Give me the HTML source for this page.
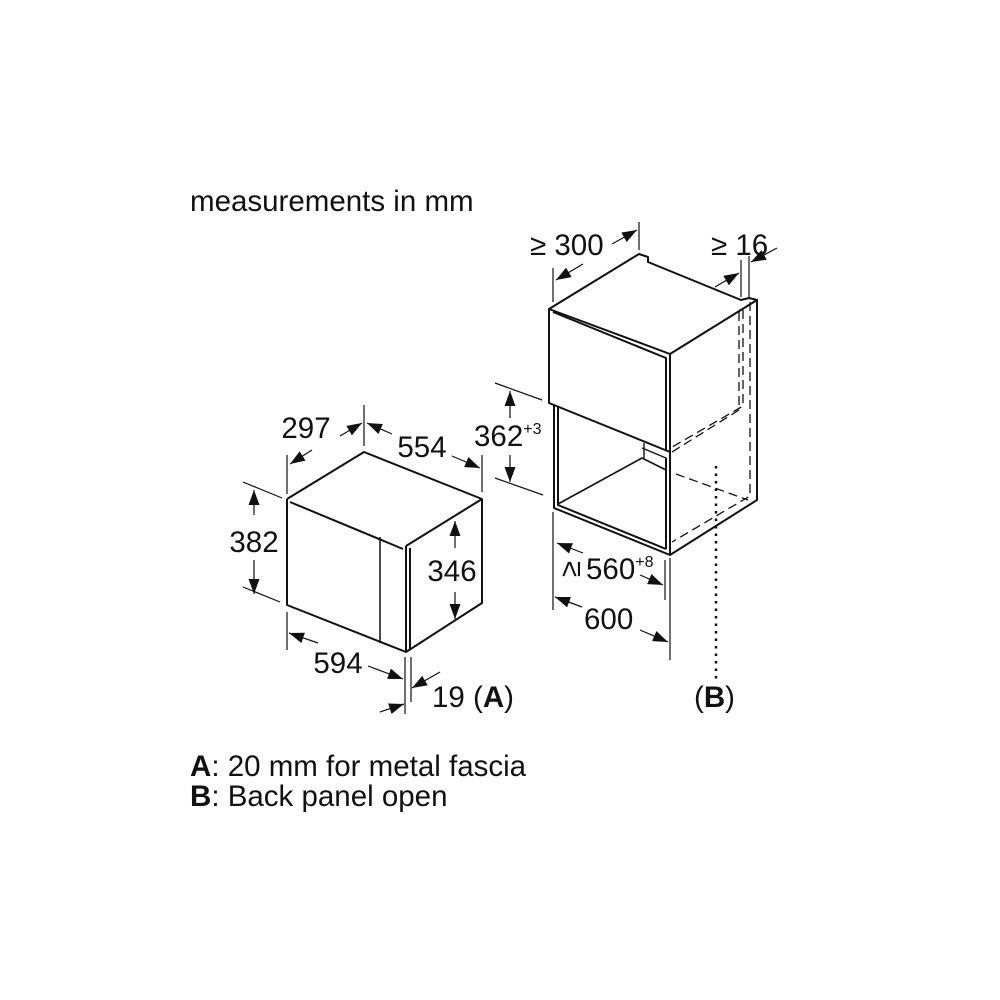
<!DOCTYPE html>
<html><head><meta charset="utf-8">
<style>html,body{margin:0;padding:0;background:#fff}svg{display:block}
text{font-family:"Liberation Sans",Arial,sans-serif;fill:#111}</style></head>
<body>
<svg width="1000" height="1000" viewBox="0 0 1000 1000" xmlns="http://www.w3.org/2000/svg">
<defs>
<marker id="a" viewBox="0 0 15 11" refX="15" refY="5.5" markerWidth="15" markerHeight="11" markerUnits="userSpaceOnUse" orient="auto">
<path d="M0,0 L15,5.5 L0,11 z" fill="#111"/></marker>
</defs>
<rect width="1000" height="1000" fill="#fff"/>
<text x="190" y="211" font-size="29.5">measurements in mm</text>

<!-- Microwave -->
<g stroke="#111" stroke-width="2" fill="none" stroke-linejoin="round">
<path d="M287,499 L364,452 L482,499 L406,546"/>
<path d="M290,502 L403,549"/>
<path d="M287,499 L287,605 L406,652 L482,603 L482,499"/>
<path d="M406,546 L406,652 M410,548 L410,650"/>
<path d="M380,537 L380,643" stroke-width="1.5"/>
</g>
<g stroke="#111" stroke-width="1.2" fill="none">
<path d="M287,455 L287,494 M364,405 L364,446 M482,455 L482,492"/>
<path d="M243,482 L282,498 M243,587 L280,602"/>
<path d="M287,612 L287,650 M405,657 L405,714 M411,657 L411,702"/>
<path d="M312,450 L290,464" marker-end="url(#a)"/>
<path d="M340,436 L362,423" marker-end="url(#a)"/>
<path d="M392,434 L367,423" marker-end="url(#a)"/>
<path d="M452,456 L480,468" marker-end="url(#a)"/>
<path d="M254,515 L254,490" marker-end="url(#a)"/>
<path d="M254,560 L254,594" marker-end="url(#a)"/>
<path d="M455,548 L455,521" marker-end="url(#a)"/>
<path d="M455,592 L455,619" marker-end="url(#a)"/>
<path d="M318,643 L289,633" marker-end="url(#a)"/>
<path d="M368,666 L403,679" marker-end="url(#a)"/>
<path d="M380,712 L404,704" marker-end="url(#a)"/>
<path d="M440,672 L412,688" marker-end="url(#a)"/>
</g>
<text x="306" y="438" font-size="29.5" text-anchor="middle">297</text>
<text x="422" y="457" font-size="29.5" text-anchor="middle">554</text>
<text x="254" y="552" font-size="29.5" text-anchor="middle">382</text>
<text x="452" y="581" font-size="29.5" text-anchor="middle">346</text>
<text x="338" y="673" font-size="29.5" text-anchor="middle">594</text>
<text x="432" y="707" font-size="29.5">19 (<tspan font-weight="bold">A</tspan>)</text>

<!-- Cabinet -->
<g stroke="#111" stroke-width="2" fill="none" stroke-linejoin="round">
<path d="M549,309 L639,254 L648,257 L648,262 L741,300 L749,298 L757,300 L670,354 Z"/>
<path d="M549,309 L549,403 L670,452 L670,354"/>
<path d="M553,312 L666,358 L666,450"/>
<path d="M757,300 L757,500 L670,555 L670,452"/>
<path d="M554,405 L554,508 L670,555 M558,407 L558,505 L666,549"/>
<path d="M666,458 L666,549"/>
<path d="M558,504 L642,458 L666,470" stroke-width="1.6"/>
<path d="M644,443 L644,458 M642,448 L666,458" stroke-width="1.4"/>
</g>
<g stroke="#111" stroke-width="1.3" fill="none" stroke-dasharray="9,5">
<path d="M739,312 L739,410 L672,452"/>
<path d="M743,310 L743,406 L672,447"/>
<path d="M750,302 L750,496 L672,542"/>
<path d="M676,474 L748,500"/>
</g>
<path d="M716,466 L716,680" stroke="#111" stroke-width="2.5" stroke-dasharray="2.5,5" fill="none"/>
<g stroke="#111" stroke-width="1.2" fill="none">
<path d="M553,268 L553,302 M639,222 L639,250 M741,260 L741,297 M749,256 L749,297"/>
<path d="M495,383 L542,400 M495,478 L543,495"/>
<path d="M553,512 L553,610 M665,560 L665,600 M670,558 L670,660"/>
<path d="M583,264 L556,280" marker-end="url(#a)"/>
<path d="M612,244 L637,230" marker-end="url(#a)"/>
<path d="M715,287 L739,273" marker-end="url(#a)"/>
<path d="M777,248 L751,262" marker-end="url(#a)"/>
<path d="M510,418 L510,391" marker-end="url(#a)"/>
<path d="M510,455 L510,482" marker-end="url(#a)"/>
<path d="M583,553 L557,543" marker-end="url(#a)"/>
<path d="M640,575 L663,585" marker-end="url(#a)"/>
<path d="M582,607 L555,597" marker-end="url(#a)"/>
<path d="M640,630 L668,642" marker-end="url(#a)"/>
</g>
<text x="530" y="255" font-size="29.5">≥ 300</text>
<text x="711" y="255" font-size="29.5">≥ 16</text>
<text x="474" y="446" font-size="29.5">362<tspan font-size="16" dy="-12">+3</tspan></text>
<text x="0" y="0" font-size="29.5" transform="translate(580,569) rotate(-90)" text-anchor="middle">≥</text>
<text x="586" y="579" font-size="29.5">560<tspan font-size="16" dy="-12">+8</tspan></text>
<text x="584" y="629" font-size="29.5">600</text>
<text x="694" y="707" font-size="29.5">(<tspan font-weight="bold">B</tspan>)</text>

<text x="190" y="776" font-size="29.5"><tspan font-weight="bold">A</tspan>: 20 mm for metal fascia</text>
<text x="190" y="806" font-size="29.5"><tspan font-weight="bold">B</tspan>: Back panel open</text>
</svg>
</body></html>
